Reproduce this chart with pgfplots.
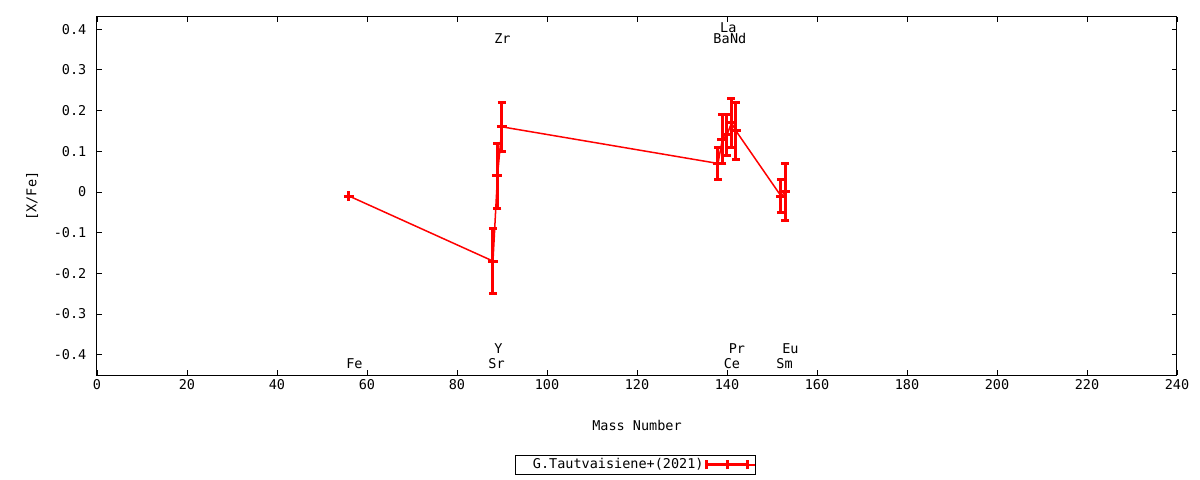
\documentclass[border=0pt]{standalone}
\usepackage{fontspec}
\setmainfont{DejaVu Sans Mono}
\usepackage{pgfplots}
\usepackage{pgfplotstable}
\pgfplotsset{compat=1.18}
\pgfplotstableread{
x y e
56 -0.01 0.0
88 -0.17 0.08
89 0.04 0.08
90 0.16 0.06
138 0.07 0.04
139 0.13 0.06
140 0.14 0.05
141 0.17 0.06
142 0.15 0.07
152 -0.01 0.04
153 0.00 0.07
}\tautdata
\begin{document}
\fontsize{13.5bp}{15bp}\selectfont
\begin{tikzpicture}
\begin{axis}[
  at={(0,0)}, anchor=south west,
  scale only axis, width=1080bp, height=358bp,
  xmin=0, xmax=240, ymin=-0.45, ymax=0.43,
  xtick={0,20,40,60,80,100,120,140,160,180,200,220,240},
  ytick={-0.4,-0.3,-0.2,-0.1,0,0.1,0.2,0.3,0.4},
  yticklabels={-0.4,-0.3,-0.2,-0.1,0,0.1,0.2,0.3,0.4},
  xtick pos=both, ytick pos=both,
  xticklabel pos=bottom, yticklabel pos=left,
  tick align=inside,
  major tick length=5bp,
  tick style={black, line width=0.8bp},
  axis line style={black, line width=1bp},
  /pgf/number format/assume math mode=true,
  xticklabel style={font=\fontsize{13.5bp}{15bp}\selectfont},
  yticklabel style={font=\fontsize{13.5bp}{15bp}\selectfont, xshift=-6bp},
  xlabel={Mass Number},
  ylabel={[X/Fe]},
  xlabel style={at={(axis description cs:0.5,-0.14)}, anchor=center},
  ylabel style={at={(axis description cs:-0.060,0.5)}, anchor=center},
  clip=false,
  legend plot pos=right,
  legend style={at={(0.499,-0.251)}, anchor=center, draw=black, line width=1bp,
    inner sep=0pt, nodes={inner xsep=0pt, inner ysep=3bp}},
  legend image code/.code={
    \draw[red, line width=3bp] (0bp,0bp) -- (44bp,0bp);
    \draw[red, line width=3bp] (1.5bp,-4.5bp) -- (1.5bp,4.5bp);
    \draw[red, line width=3bp] (22bp,-4.5bp) -- (22bp,4.5bp);
    \draw[red, line width=3bp] (42.5bp,-4.5bp) -- (42.5bp,4.5bp);
    \path (0bp,0bp) -- (50bp,0bp);
  },
]
\addplot[red, line width=1.5bp, mark=+, mark size=5bp,
  mark options={line width=3bp, solid},
  error bars/.cd, y dir=both, y explicit,
  error bar style={line width=3bp, red},
  error mark options={rotate=90, line width=3bp, mark size=4bp, red}]
  table[x=x, y=y, y error=e] {\tautdata};
\addlegendentry{\hspace{17bp}G.Tautvaisiene+(2021)\hspace{16bp}}
\node[anchor=base] at (axis cs:57.2,-0.433) {Fe};
\node[anchor=base] at (axis cs:88.8,-0.433) {Sr};
\node[anchor=base] at (axis cs:89.2,-0.398) {Y};
\node[anchor=base] at (axis cs:90.1,0.366) {Zr};
\node[anchor=base] at (axis cs:138.8,0.366) {Ba};
\node[anchor=base] at (axis cs:140.3,0.393) {La};
\node[anchor=base] at (axis cs:141.1,-0.433) {Ce};
\node[anchor=base] at (axis cs:142.2,-0.398) {Pr};
\node[anchor=base] at (axis cs:142.5,0.366) {Nd};
\node[anchor=base] at (axis cs:152.8,-0.433) {Sm};
\node[anchor=base] at (axis cs:154.1,-0.398) {Eu};
\end{axis}
\pgfresetboundingbox
\path[use as bounding box] (-97bp,-105bp) rectangle (1103bp,375bp);
\end{tikzpicture}
\end{document}
